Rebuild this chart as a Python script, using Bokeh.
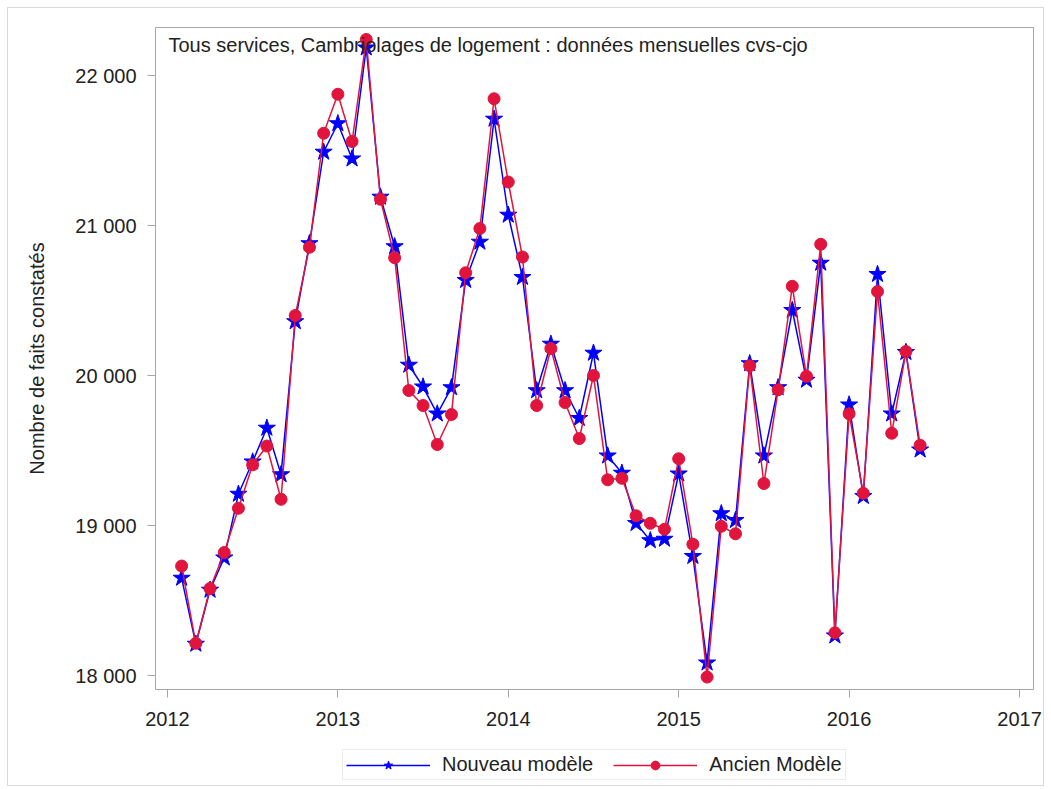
from bokeh.plotting import figure
from bokeh.layouts import column
from bokeh.models import (ColumnDataSource, Range1d, FixedTicker, Label, Legend, LegendItem)
from bokeh.embed import file_html
from bokeh.resources import INLINE

# ---- data ----
months = [
    "2012-02", "2012-03", "2012-04", "2012-05", "2012-06", "2012-07", "2012-08", "2012-09", "2012-10", "2012-11", "2012-12",
    "2013-01", "2013-02", "2013-03", "2013-04", "2013-05", "2013-06", "2013-07", "2013-08", "2013-09", "2013-10", "2013-11", "2013-12",
    "2014-01", "2014-02", "2014-03", "2014-04", "2014-05", "2014-06", "2014-07", "2014-08", "2014-09", "2014-10", "2014-11", "2014-12",
    "2015-01", "2015-02", "2015-03", "2015-04", "2015-05", "2015-06", "2015-07", "2015-08", "2015-09", "2015-10", "2015-11", "2015-12",
    "2016-01", "2016-02", "2016-03", "2016-04", "2016-05", "2016-06",
]
nouveau = [
    18650, 18210, 18570, 18785, 19210, 19425, 19650, 19340, 20360, 20880, 21490,
    21680, 21445, 22185, 21190, 20860, 20070, 19925, 19745, 19920, 20635, 20890, 21710,
    21070, 20655, 19900, 20210, 19900, 19715, 20150, 19465, 19350, 19015, 18900, 18910,
    19345, 18795, 18085, 19080, 19035, 20080, 19465, 19920, 20435, 19970, 20750, 18265,
    19805, 19195, 20675, 19745, 20155, 19505,
]
ancien = [
    18730, 18215, 18580, 18820, 19115, 19405, 19530, 19175, 20400, 20855, 21615,
    21875, 21560, 22240, 21175, 20785, 19900, 19800, 19540, 19740, 20685, 20980, 21845,
    21290, 20790, 19800, 20180, 19820, 19580, 20000, 19305, 19315, 19065, 19015, 18975,
    19445, 18875, 17990, 18995, 18945, 20065, 19280, 19905, 20595, 19995, 20875, 18285,
    19745, 19215, 20560, 19615, 20160, 19535,
]
x_ticks = [2012, 2013, 2014, 2015, 2016, 2017]
y_ticks = [18000, 19000, 20000, 21000, 22000]
y_tick_labels = ["18 000", "19 000", "20 000", "21 000", "22 000"]
title_text = "Tous services, Cambriolages de logement : données mensuelles cvs-cjo"
y_label = "Nombre de faits constatés"
series_names = ["Nouveau modèle", "Ancien Modèle"]
series_fields = ["nouveau", "ancien"]

# ---- build ----
xdec = [int(m[:4]) + (int(m[5:]) - 1) / 12 for m in months]
src = ColumnDataSource(dict(x=xdec, nouveau=nouveau, ancien=ancien))

FONT = "Liberation Sans"
TXT = "#222222"
GRAY = "#a6a6a6"
BLUE = "#0000ff"
RED = "#e0143c"

p = figure(width=1035, height=732, output_backend="svg", toolbar_location=None,
           x_range=Range1d(2011.930, 2017.082), y_range=Range1d(17907, 22320),
           min_border_left=147, min_border_right=10, min_border_top=19, min_border_bottom=51)
p.background_fill_color = "white"
p.border_fill_color = "white"
p.outline_line_color = GRAY
p.outline_line_width = 1
p.xgrid.visible = False
p.ygrid.visible = False

for ax in (p.xaxis[0], p.yaxis[0]):
    ax.axis_line_color = None
    ax.major_tick_line_color = GRAY
    ax.major_tick_out = 8
    ax.major_tick_in = 0
    ax.minor_tick_line_color = None
    ax.major_label_text_font = FONT
    ax.major_label_text_font_size = "20px"
    ax.major_label_text_color = TXT

p.xaxis.ticker = FixedTicker(ticks=x_ticks)
p.xaxis.major_label_standoff = 14
p.yaxis.ticker = FixedTicker(ticks=y_ticks)
p.yaxis.major_label_overrides = {t: l for t, l in zip(y_ticks, y_tick_labels)}
p.yaxis.major_label_standoff = 11
p.yaxis.axis_label = y_label
p.yaxis.axis_label_text_font = FONT
p.yaxis.axis_label_text_font_size = "20px"
p.yaxis.axis_label_text_font_style = "normal"
p.yaxis.axis_label_text_color = TXT
p.yaxis.axis_label_standoff = 24

line_style = [dict(line_color=BLUE, line_width=1.5), dict(line_color=RED, line_width=1.5)]
mark_style = [dict(marker="star", size=18, fill_color=BLUE, line_color=BLUE),
              dict(marker="circle", size=12, fill_color=RED, line_color=RED)]

for i in range(2):
    p.line("x", series_fields[i], source=src, **line_style[i])
    p.scatter("x", series_fields[i], source=src, **mark_style[i])

p.add_layout(Label(x=2011.930, y=22320, x_offset=13, y_offset=-6, text=title_text,
                   text_font=FONT, text_font_size="20px", text_color=TXT,
                   text_baseline="top", text_align="left"))

# legend strip below the chart (its renderers use the same data, outside the strip's ranges)
q = figure(width=1035, height=45, output_backend="svg", toolbar_location=None,
           x_range=Range1d(0, 1), y_range=Range1d(0, 1),
           x_axis_type=None, y_axis_type=None,
           min_border_left=0, min_border_right=0, min_border_top=0, min_border_bottom=0)
q.outline_line_color = None
q.xgrid.visible = False
q.ygrid.visible = False
q.background_fill_color = "white"
q.border_fill_color = "white"
items = []
for i in range(2):
    lr = q.line("x", series_fields[i], source=src, **line_style[i])
    mr = q.scatter("x", series_fields[i], source=src, **mark_style[i])
    items.append(LegendItem(label=series_names[i], renderers=[lr, mr]))

legend = Legend(items=items, orientation="horizontal", location=(187, 5),
                glyph_width=84, glyph_height=22, label_standoff=12, spacing=20,
                padding=3, margin=0,
                label_text_font=FONT, label_text_font_size="20px", label_text_color=TXT,
                border_line_color="#d9d9d9", border_line_width=1,
                background_fill_color="white", background_fill_alpha=1)
q.add_layout(legend, "center")

layout = column(p, q, spacing=0,
                styles={"margin-left": "8px", "margin-top": "8px", "outline": "1px solid #d9d9d9"})

open("out.html", "w").write(file_html(layout, INLINE))
